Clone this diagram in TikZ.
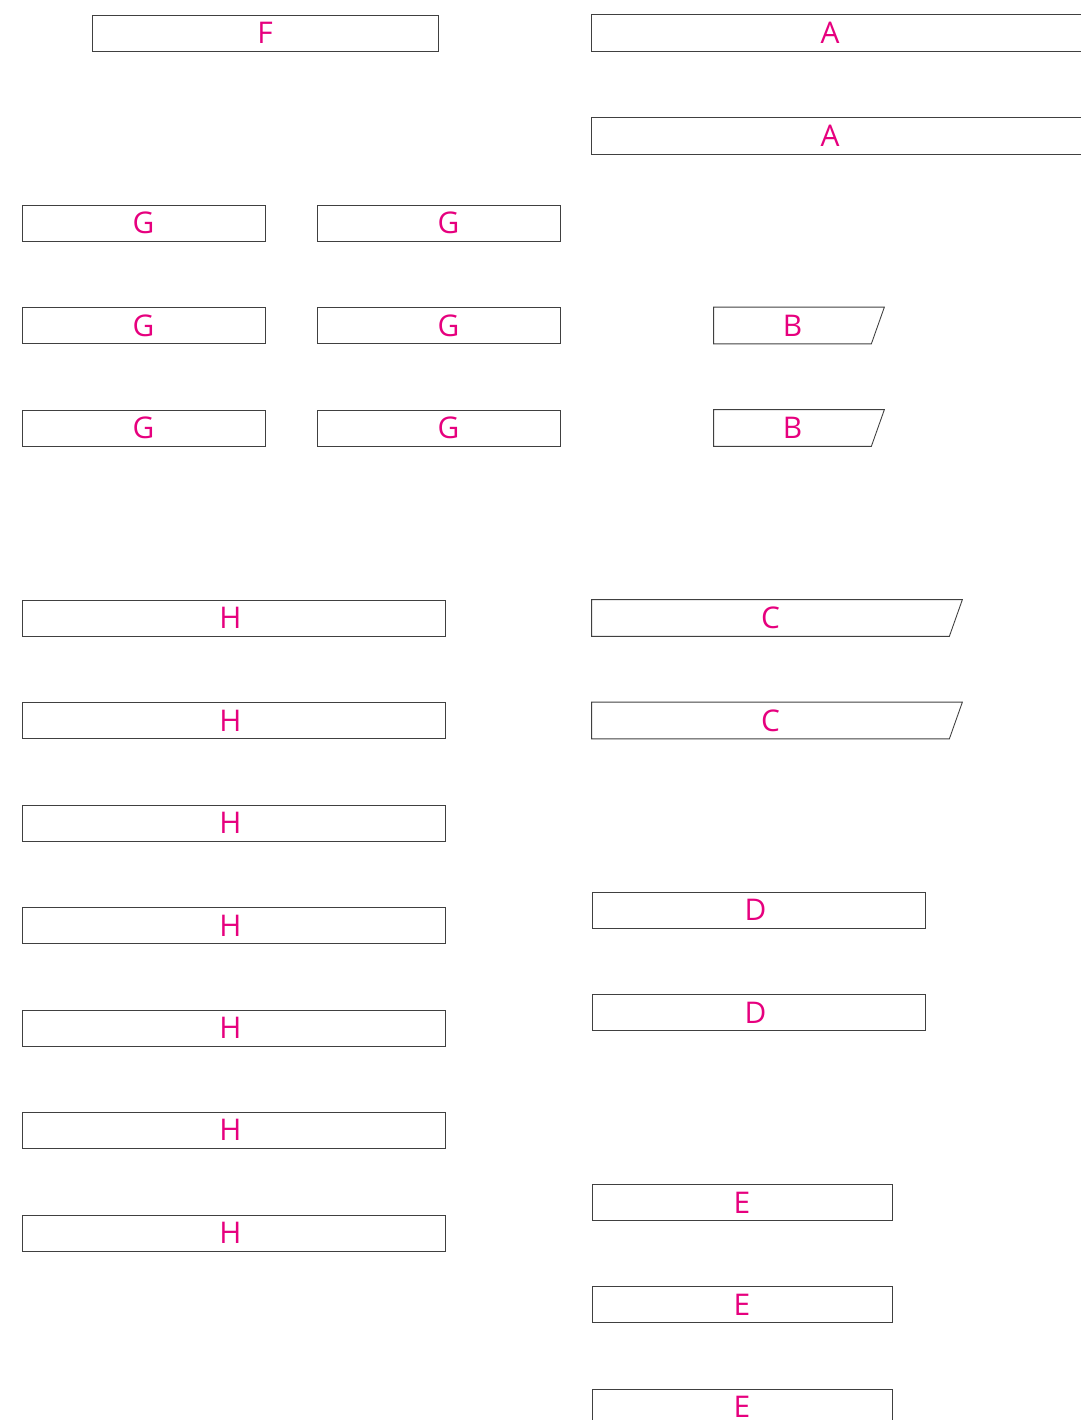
\documentclass[tikz,border=0pt]{standalone}
\usepackage{fontspec}
\setmainfont{Open Sans}
\usetikzlibrary{calc}
\definecolor{lblmag}{RGB}{230,0,126}

\begin{document}
\begin{tikzpicture}[
    x=0.02cm, y=-0.02cm,
    every node/.style={
        font=\fontsize{17}{20}\selectfont,
        text=lblmag,
        inner sep=0pt
    },
    box/.style={
        draw=black!75,
        line width=0.5pt,
        minimum height=0.72cm,
        minimum width=#1*0.02cm
    },
    slantbox/.style={
        minimum height=0.72cm,
        minimum width=#1*0.02cm
    },
    outline/.style={
        draw=black!75,
        line width=0.5pt
    }
]
\useasboundingbox (0,0) rectangle (1081,1420);
\clip (0,0) rectangle (1081,1420);

% left column
\node[box=346] (f) at (265,33) {F};
\foreach \y [count=\i] in {223,325.5,428} {
    \node[box=243] (gl\i) at (143.5,\y) {G};
    \node[box=243] (gr\i) at (438.5,\y) {\hspace*{0.4cm}G};
}
\foreach \y [count=\i] in {618,720.5,823,925.5,1028,1130,1233} {
    \node[box=423] (h\i) at (233.5,\y) {H\hspace*{0.12cm}};
}

% right column
\foreach \y [count=\i] in {33,136} {
    \node[slantbox=476] (a\i) at (830,\y) {A};
    \draw[outline] ($(a\i.north east)+(40,0)$) -- (a\i.north west)
        -- (a\i.south west) -- ($(a\i.south east)+(40,0)$);
}
\foreach \y [count=\i] in {325.5,428} {
    \node[slantbox=157] (b\i) at (792.5,\y) {B};
    \draw[outline] (b\i.south west) -- (b\i.north west)
        -- ($(b\i.north east)+(13,0)$) -- (b\i.south east) -- cycle;
}
\foreach \y [count=\i] in {618,720.5} {
    \node[slantbox=357] (c\i) at (770.5,\y) {C};
    \draw[outline] (c\i.south west) -- (c\i.north west)
        -- ($(c\i.north east)+(13,0)$) -- (c\i.south east) -- cycle;
}
\foreach \y [count=\i] in {910,1012.5} {
    \node[box=333] (d\i) at (758.5,\y) {D\hspace*{0.12cm}};
}
\foreach \y [count=\i] in {1202.5,1304.5,1407} {
    \node[box=300] (e\i) at (742,\y) {E};
}

\end{tikzpicture}
\end{document}
